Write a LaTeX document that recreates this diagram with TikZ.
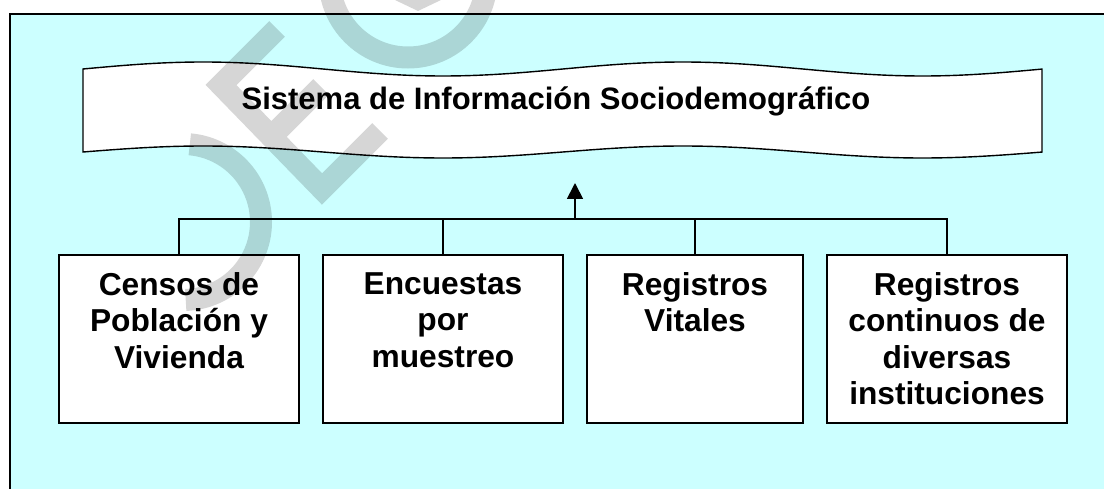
\documentclass[tikz,border=0pt]{standalone}
\usepackage{fontspec}
\setmainfont{Liberation Sans}
\usetikzlibrary{arrows.meta,calc}
\definecolor{bgcyan}{HTML}{CCFFFF}
\begin{document}
\begin{tikzpicture}[x=1pt,y=-1pt,
  box/.style={draw, line width=1.8pt, fill=white, minimum height=168pt, inner sep=0pt},
  boxtext/.style={font=\fontsize{31.7}{36.5}\selectfont\bfseries, align=center, anchor=north, inner sep=0pt},
  conn/.style={line width=1.8pt},
  wm/.style={draw=black, draw opacity=0.16, line width=22pt, line cap=butt, line join=miter}]
\useasboundingbox (0,0) rectangle (1104,489);
\clip (0,0) rectangle (1104,489);
\draw[fill=bgcyan, line width=1.5pt] (10,14) rectangle (1130,520);
% banner
\draw[fill=white, line width=1.4pt]
  plot[domain=83:1042, samples=120] (\x,{69-7*sin((\x-83)*0.7502)})
  -- plot[domain=1042:83, samples=120] (\x,{152-6*sin((\x-83)*0.7502)}) -- cycle;
\node[anchor=base, inner sep=0pt, font=\fontsize{31}{37}\selectfont\bfseries] (title) at (556,110) {Sistema de Información Sociodemográfico};
% boxes
\node[box, minimum width=240pt] (b1) at (179,339) {};
\node[box, minimum width=240pt] (b2) at (443,339) {};
\node[box, minimum width=216pt] (b3) at (695,339) {};
\node[box, minimum width=240pt] (b4) at (947,339) {};
\node[boxtext] (t1) at ($(b1.north)+(0,18)$) {Censos de\\Población y\\Vivienda};
\node[boxtext] (t2) at ($(b2.north)+(0,18)$) {Encuestas\\por\\muestreo};
\node[boxtext] (t3) at ($(b3.north)+(0,18)$) {Registros\\Vitales};
\node[boxtext] (t4) at ($(b4.north)+(0,18)$) {Registros\\continuos de\\diversas\\instituciones};
% connectors
\coordinate (hub) at (575,219);
\coordinate (tip) at (575,183);
\draw[conn] (b1.north) -- (b1.north |- hub) -- (b4.north |- hub) -- (b4.north);
\draw[conn] (b2.north) -- (b2.north |- hub);
\draw[conn] (b3.north) -- (b3.north |- hub);
\draw[conn, -{Triangle[width=16pt,length=16pt]}] (hub) -- (tip);
% watermark
\draw[wm] (277,29) -- (221,85) -- (322,189) -- (380,131) (271,137) -- (321,87);
\draw[wm] plot[domain=-85:88, samples=60] ({183+78*cos(\x)},{222+78*sin(\x)});
\draw[wm] (408,-21) circle[radius=78.5];
\fill[black, fill opacity=0.16] (395,0) -- (441,0) -- (418,11) -- cycle;
\end{tikzpicture}
\end{document}
